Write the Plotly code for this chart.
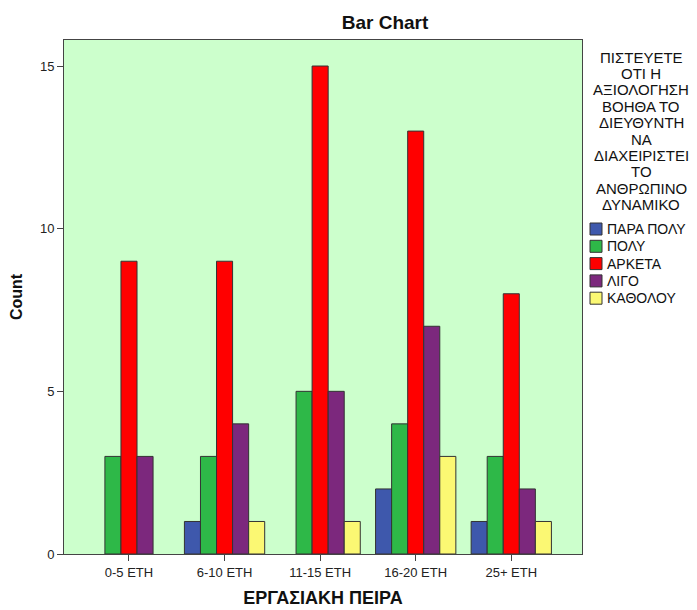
import plotly.graph_objects as go

categories = ["0-5 ΕΤΗ", "6-10 ΕΤΗ", "11-15 ΕΤΗ", "16-20 ΕΤΗ", "25+ ΕΤΗ"]
series_names = ["ΠΑΡΑ ΠΟΛΥ", "ΠΟΛΥ", "ΑΡΚΕΤΑ", "ΛΙΓΟ", "ΚΑΘΟΛΟΥ"]
para_poly = [0, 1, 0, 2, 1]
poly = [3, 3, 5, 4, 3]
arketa = [9, 9, 15, 13, 8]
ligo = [3, 4, 5, 7, 2]
katholou = [0, 1, 1, 3, 1]
colors = ["#3E58AC", "#2EB848", "#FF0000", "#7C287D", "#FBF873"]
y_ticks = [0, 5, 10, 15]
legend_title_lines = ["ΠΙΣΤΕΥΕΤΕ", "ΟΤΙ Η", "ΑΞΙΟΛΟΓΗΣΗ", "ΒΟΗΘΑ ΤΟ", "ΔΙΕΥΘΥΝΤΗ", "ΝΑ",
                      "ΔΙΑΧΕΙΡΙΣΤΕΙ", "ΤΟ", "ΑΝΘΡΩΠΙΝΟ", "ΔΥΝΑΜΙΚΟ"]

# page has an 8px body margin; geometry below is in screenshot pixels
OFF = 8
W, H = 697 - OFF, 610 - OFF
PL, PR, PT, PB = 64, 582, 40, 554  # plot area in screenshot px


def px_x(x):
    return (x - PL) / (PR - PL)


def px_y(y):
    return 1 - (y - PT) / (PB - PT)


FONT = "Liberation Sans, Arial, sans-serif"
fig = go.Figure()
for name, vals, col in zip(series_names, [para_poly, poly, arketa, ligo, katholou], colors):
    fig.add_trace(go.Bar(
        x=list(range(len(categories))), y=[v if v else None for v in vals], name=name,
        marker=dict(color=col, line=dict(color="#333333", width=1)),
    ))

fig.update_layout(
    width=W, height=H,
    margin=dict(l=PL - OFF, r=697 - PR, t=PT - OFF, b=610 - PB, autoexpand=False),
    paper_bgcolor="white",
    plot_bgcolor="#CCFFCC",
    barmode="group",
    bargap=0.16,
    bargroupgap=0,
    showlegend=False,
    font=dict(family=FONT, size=13, color="#222222"),
    title=dict(text="<b>Bar Chart</b>", x=(385 - OFF) / W, xanchor="center", xref="container",
               y=1 - (22 - OFF) / H, yanchor="middle", yref="container",
               font=dict(size=19, color="#111111")),
    xaxis=dict(
        tickmode="array", tickvals=list(range(len(categories))), ticktext=categories,
        range=[-0.68, 4.74], showgrid=False, zeroline=False,
        showline=True, linecolor="#444444", linewidth=1, mirror=True,
        ticks="outside", ticklen=6, tickcolor="#444444",
        tickfont=dict(size=13, color="#222222"),
        title=dict(text="<b>ΕΡΓΑΣΙΑΚΗ ΠΕΙΡΑ</b>", font=dict(size=18, color="#111111"), standoff=12),
    ),
    yaxis=dict(
        tickmode="array", tickvals=y_ticks, range=[0, 15.8],
        showgrid=False, zeroline=False,
        showline=True, linecolor="#444444", linewidth=1, mirror=True,
        ticks="outside", ticklen=6, tickcolor="#444444",
        tickfont=dict(size=13, color="#222222"),
        title=dict(text="<b>Count</b>", font=dict(size=16, color="#111111"), standoff=16),
    ),
)

# legend title, one annotation per line
for i, line in enumerate(legend_title_lines):
    fig.add_annotation(
        text=line, xref="paper", yref="paper",
        x=px_x(641), y=px_y(57 + i * 16.4), xanchor="center", yanchor="middle",
        showarrow=False, font=dict(size=15, color="#111111", family=FONT),
    )

# legend entries
for i, (name, col) in enumerate(zip(series_names, colors)):
    yc = 229 + i * 17.3
    fig.add_shape(type="rect", xref="paper", yref="paper",
                  x0=px_x(590), x1=px_x(602), y0=px_y(yc - 6), y1=px_y(yc + 6),
                  fillcolor=col, line=dict(color="#333333", width=1))
    fig.add_annotation(
        text=name, xref="paper", yref="paper",
        x=px_x(605), y=px_y(yc), xanchor="left", yanchor="middle",
        showarrow=False, font=dict(size=14, color="#111111", family=FONT),
    )

fig.write_html("out.html")
